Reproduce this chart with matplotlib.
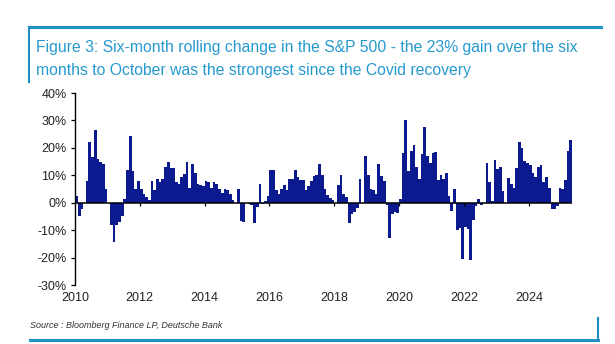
import matplotlib
matplotlib.use("Agg")
import matplotlib.pyplot as plt
from matplotlib.lines import Line2D
import pandas as pd

# Datos: variacion a 6 meses del S&P 500 (%), mensual desde ene-2010
cambio_6m = [
    2.5, -5, -2.4, 0, 8, 22, 16.5, 26.5, 16, 15, 14, 5,
    0, -8, -14.5, -8, -7, -5, 1.5, 12, 24.5, 11.5, 5, 8,
    5, 3, 2, 1, 8, 4.5, 8.5, 7.5, 8.5, 13, 15, 12.5,
    12.5, 7.5, 7, 9.5, 10.5, 15, 5.5, 14, 11, 7, 6.5, 6,
    8, 7.5, 5.5, 7.5, 7, 5, 3.5, 5, 4.5, 3, 1, 0,
    5, -6.8, -7.2, 0, -0.5, -1, -7.4, -1.5, 7, -0.5, 0.5, 2.3,
    11.8, 12.1, 4.7, 3, 5, 6.5, 4.5, 8.5, 8.5, 12, 9.3, 8.3,
    8.2, 4.5, 6, 8, 9.8, 10, 14, 10, 5, 2.8, 1.8, 1,
    0, 6.5, 10, 3, 2, -7.5, -4, -3.5, -2, 8.5, 0, 17,
    10.2, 5, 4.5, 3.2, 14, 9.6, 7.8, -1, -13, -4, -3.5, -3.8,
    1.2, 18, 30, 11.5, 19, 21, 13.2, 8.7, 17.8, 27.6, 17, 14.3,
    18.2, 18.5, 8.3, 10, 8.5, 10.7, 2.4, -3.2, 5, -10, -9.4, -20.5,
    -8.8, -9.5, -21, -6.2, -1.2, 1.2, -1, 0, 14.5, 7.5, 0.5, 15.6,
    12.2, 13.2, 4.1, 0, 8.9, 6.7, 5.5, 12.8, 22.3, 19.8, 15.2, 14.6,
    13.8, 10.7, 9.5, 12.9, 13.8, 7.7, 9.3, 5.2, -2.4, -2.2, -1.2, 5.2,
    5, 8.3, 19, 22.8,
]
fecha_inicio = "2010-01-01"
anios_etiqueta = [2010, 2012, 2014, 2016, 2018, 2020, 2022, 2024]
y_ticks = [-30, -20, -10, 0, 10, 20, 30, 40]

titulo = ("Figure 3: Six-month rolling change in the S&P 500 - the 23% gain over the six\n"
          "months to October was the strongest since the Covid recovery")
fuente = "Source : Bloomberg Finance LP, Deutsche Bank"

azul_barra = "#0b1a8e"
azul_marco = "#1f8fc4"
azul_titulo = "#2699cf"

plt.rcParams["font.family"] = ["Liberation Sans", "DejaVu Sans"]

fechas = pd.date_range(fecha_inicio, periods=len(cambio_6m), freq="MS")
fecha_fin = fechas[-1] + pd.offsets.MonthBegin(1)
ticks = [pd.Timestamp(f"{a}-01-01") for a in anios_etiqueta]

fig = plt.figure(figsize=(6.15, 3.44), dpi=100)
ax = fig.add_axes([75 / 615, 1 - 285 / 344, (572 - 75) / 615, (285 - 93) / 344])

ax.bar(fechas, cambio_6m, width=31, align="edge", color=azul_barra, linewidth=0)
ax.axhline(0, color="black", lw=1.1, zorder=3)
ax.vlines(ticks[1:], -1.1, 0, color="black", lw=0.9, zorder=3)

ax.set_xlim(fechas[0], fecha_fin)
ax.set_ylim(-30, 40)
ax.set_yticks(y_ticks)
ax.set_yticklabels([f"{v}%" for v in y_ticks], fontsize=9, color="#222222")
ax.set_xticks(ticks)
ax.set_xticklabels([str(a) for a in anios_etiqueta], fontsize=9, color="#222222")
ax.tick_params(axis="x", length=0, pad=5)
ax.tick_params(axis="y", length=3, width=0.9, direction="out", pad=3)

for lado in ["top", "right", "bottom"]:
    ax.spines[lado].set_visible(False)
ax.spines["left"].set_linewidth(1.0)

# Marco del grafico
fig.add_artist(Line2D([29 / 615, 601 / 615], [1 - 27 / 344] * 2, color=azul_marco, lw=2.2))
fig.add_artist(Line2D([29 / 615] * 2, [1 - 27 / 344, 1 - 82 / 344], color=azul_marco, lw=1.5))
fig.add_artist(Line2D([30 / 615, 598 / 615], [1 - 340 / 344] * 2, color=azul_marco, lw=2.2))
fig.add_artist(Line2D([598 / 615] * 2, [1 - 318 / 344, 1 - 340 / 344], color=azul_marco, lw=1.5))

fig.text(36 / 615, 1 - 40 / 344, titulo, fontsize=11.3, color=azul_titulo,
         va="top", ha="left", linespacing=1.65)
fig.text(30 / 615, 1 - 325 / 344, fuente, fontsize=6.5, style="italic",
         color="#333333", va="center", ha="left")

fig.savefig("out.png", dpi=100)
